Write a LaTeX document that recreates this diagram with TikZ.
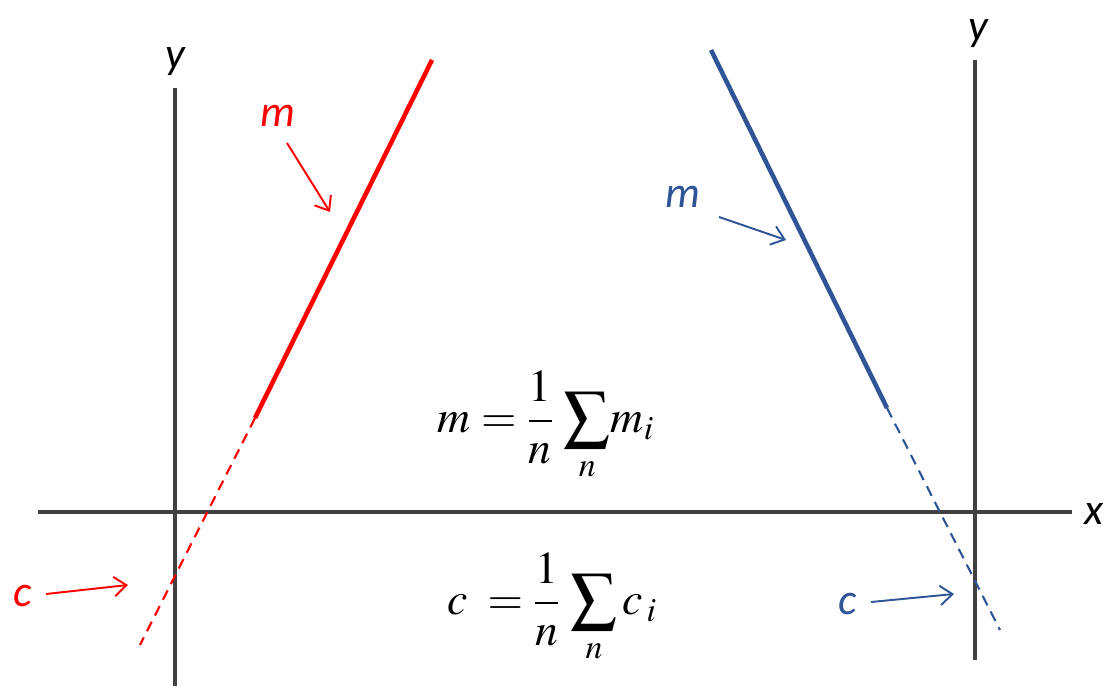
\documentclass[tikz,border=0pt]{standalone}
\usepackage{amsmath}
\usepackage{mathptmx}
\usepackage[no-math]{fontspec}
\setmainfont{Carlito}
\usetikzlibrary{arrows.meta}
\definecolor{axisgray}{HTML}{404040}
\definecolor{lblue}{HTML}{2F5597}
\definecolor{lred}{HTML}{FF0000}
\begin{document}
\begin{tikzpicture}[x=0.02cm,y=-0.02cm,
  axis/.style={draw=axisgray,line width=2.4pt},
  fitline/.style={line width=2.6pt},
  extline/.style={line width=1.2pt,dash pattern=on 6pt off 4pt},
  pointer/.style={line width=1.1pt,-{Straight Barb[length=7pt,width=11pt,line width=1.1pt]}},
  lbl/.style={font=\fontsize{25}{28}\selectfont\itshape,inner sep=0pt},
  formula/.style={font=\fontsize{26}{30}\selectfont,inner sep=0pt}]
\useasboundingbox (0,0) rectangle (1118,688);
% axes
\coordinate (ly1) at (175,88); \coordinate (ly2) at (175,686);
\coordinate (ry1) at (975,60); \coordinate (ry2) at (975,660);
\coordinate (x1) at (38,512); \coordinate (x2) at (1072,512);
\draw[axis] (x1) -- (x2);
\draw[axis] (ly1) -- (ly2);
\draw[axis] (ry1) -- (ry2);
\node[lbl,text=black] (ly) at (175,62) {y};
\node[lbl,text=black] (ry) at (978,34) {y};
\node[lbl,text=black] (xl) at (1094,514) {x};
% red line
\coordinate (r1) at (432,60); \coordinate (r2) at (255,418); \coordinate (r3) at (140,645);
\draw[fitline,lred] (r1) -- (r2);
\draw[extline,lred] (r2) -- (r3);
% blue line
\coordinate (b1) at (711,50); \coordinate (b2) at (887,408); \coordinate (b3) at (1000,630);
\draw[fitline,lblue] (b1) -- (b2);
\draw[extline,lblue] (b2) -- (b3);
% labels and pointers
\node[lbl,text=lred] (rm) at (278,116) {m};
\coordinate (rmt) at (330,212);
\draw[pointer,lred] (287,143) -- (rmt);
\node[lbl,text=lblue] (bm) at (683,197) {m};
\coordinate (bmt) at (786,240);
\draw[pointer,lblue] (719,217) -- (bmt);
\node[lbl,text=lred] (rc) at (23,596) {c};
\coordinate (rct) at (128,585);
\draw[pointer,lred] (46,594) -- (rct);
\node[lbl,text=lblue] (bc) at (848,604) {c};
\coordinate (bct) at (954,594);
\draw[pointer,lblue] (871,602) -- (bct);
% formulas
\node[formula] (fm) at (546,426) {$\displaystyle m=\frac{1}{n}\,\sum\limits_{n}\! m_i$};
\node[formula] (fc) at (552,608) {$\displaystyle c\;=\frac{1}{n}\,\sum\limits_{n} c_{\,i}$};
\end{tikzpicture}
\end{document}
